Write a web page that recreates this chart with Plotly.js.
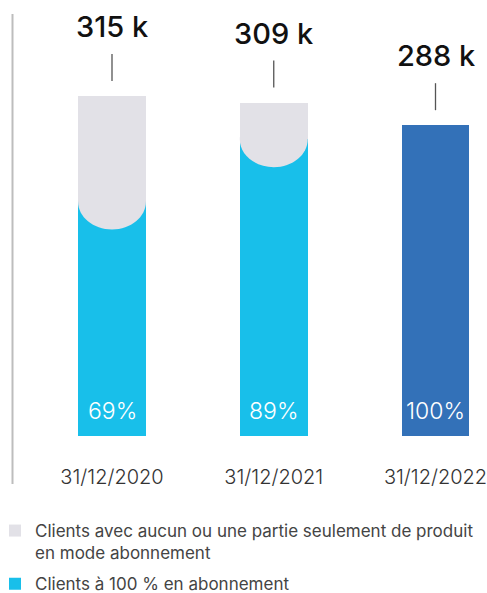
<!DOCTYPE html>
<html>
<head>
<meta charset="utf-8">
<script src="https://cdn.plot.ly/plotly-3.0.1.min.js"></script>
<style>
  html, body { margin: 0; padding: 0; background: #ffffff; }
  #chart { width: 487px; height: 593px; }
</style>
</head>
<body>
<div id="chart"></div>
<script>
// ---- Data ----
const categories = ['31/12/2020', '31/12/2021', '31/12/2022'];
const totals = [315, 309, 288];                 // thousands of clients
const shareFull = [0.69, 0.89, 1.00];           // share of clients 100 % subscription
const totalLabels = ['315 k', '309 k', '288 k'];
const shareLabels = ['69%', '89%', '100%'];
const seriesNames = [
  'Clients avec aucun ou une partie seulement de produit<br>en mode abonnement',
  'Clients à 100 % en abonnement'
];

// ---- Style ----
const FONT = 'Inter, "Open Sans", Roboto, sans-serif';
const HEAD_FONT = 'Inter, Roboto, sans-serif';
const GRAY = '#E2E1E7';
const CYAN = '#18BFEA';
const BLUE = '#3371B8';
const W = 487, H = 593;
const M = { l: 0, r: 0, t: 0, b: 157, autoexpand: false };
const plotH = H - M.t - M.b;
const yMax = 404;
const pxPerUnit = plotH / yMax;
const barWidth = 0.42;
const sagPx = 28;
const step = 161.75;

const xs = categories.map((_, i) => i);
const fullVals = totals.map((t, i) => t * shareFull[i]);
const partVals = totals.map((t, i) => t - fullVals[i]);
const fullColors = shareFull.map(s => s >= 1 ? BLUE : CYAN);

const traces = [
  {
    type: 'bar', x: xs, y: fullVals, width: barWidth,
    name: seriesNames[1], legendgroup: 'b', legendrank: 2,
    marker: { color: fullColors, line: { width: 0 } },
    hoverinfo: 'skip'
  },
  {
    type: 'bar', x: xs, y: partVals, width: barWidth,
    name: seriesNames[0], legendgroup: 'a', legendrank: 1,
    marker: { color: GRAY, line: { width: 0 } },
    hoverinfo: 'skip'
  }
];

const shapes = [];
// rounded sag of the grey part into the blue part
xs.forEach((x, i) => {
  if (shareFull[i] >= 1) return;
  const yb = fullVals[i];
  const d = sagPx / pxPerUnit;
  const hw = barWidth / 2;
  const k = 0.5523;
  const xl = x - hw, xr = x + hw;
  const top = yb + 2 / pxPerUnit;
  const path = `M ${xl},${top} L ${xl},${yb} ` +
    `C ${xl},${yb - k * d} ${x - k * hw},${yb - d} ${x},${yb - d} ` +
    `C ${x + k * hw},${yb - d} ${xr},${yb - k * d} ${xr},${yb} ` +
    `L ${xr},${top} Z`;
  shapes.push({
    type: 'path', xref: 'x', yref: 'y', path: path,
    fillcolor: GRAY, line: { width: 0 }, layer: 'above'
  });
});
// short leader lines above each bar
xs.forEach((x, i) => {
  shapes.push({
    type: 'line', xref: 'x', yref: 'y', ysizemode: 'pixel',
    yanchor: totals[i], x0: x, x1: x, y0: 15, y1: 42,
    line: { color: '#555555', width: 1.3 }
  });
});
// left vertical rule
shapes.push({
  type: 'line', xref: 'paper', yref: 'paper',
  x0: 12.5 / W, x1: 12.5 / W,
  y0: (plotH - 14) / plotH, y1: (plotH - 484) / plotH,
  line: { color: '#BDBDBD', width: 2 }
});

const annotations = [];
xs.forEach((x, i) => {
  annotations.push({
    x: x, y: totals[i], xref: 'x', yref: 'y',
    text: totalLabels[i], showarrow: false,
    yanchor: 'bottom', yshift: 50,
    font: { family: HEAD_FONT, size: 29, color: '#111111', weight: 500 }
  });
  annotations.push({
    x: x, y: 0, xref: 'x', yref: 'y',
    text: shareLabels[i], showarrow: false,
    yanchor: 'middle', yshift: 25,
    font: { family: FONT, size: 23, color: '#ffffff', weight: 300 }
  });
});

const layout = {
  width: W, height: H,
  margin: M,
  paper_bgcolor: '#ffffff', plot_bgcolor: '#ffffff',
  barmode: 'stack',
  showlegend: true,
  legend: {
    x: -5 / W, xanchor: 'left',
    y: -(513 - plotH) / plotH, yanchor: 'top',
    traceorder: 'grouped',
    tracegroupgap: 6,
    valign: 'top',
    font: { family: FONT, size: 17, color: '#444444' },
    bgcolor: 'rgba(0,0,0,0)', borderwidth: 0
  },
  xaxis: {
    range: [-112 / step, -112 / step + W / step],
    tickvals: xs, ticktext: categories,
    showgrid: false, zeroline: false, showline: false, ticks: '',
    ticklabelstandoff: 27,
    ticklabeloverflow: 'allow',
    tickfont: { family: FONT, size: 20, color: '#333333', weight: 300 },
    automargin: false,
    fixedrange: true
  },
  yaxis: {
    range: [0, yMax], visible: false, showgrid: false, zeroline: false,
    fixedrange: true
  },
  shapes: shapes,
  annotations: annotations,
  font: { family: FONT }
};

Plotly.newPlot('chart', traces, layout, { displayModeBar: false, staticPlot: true });
</script>
</body>
</html>
